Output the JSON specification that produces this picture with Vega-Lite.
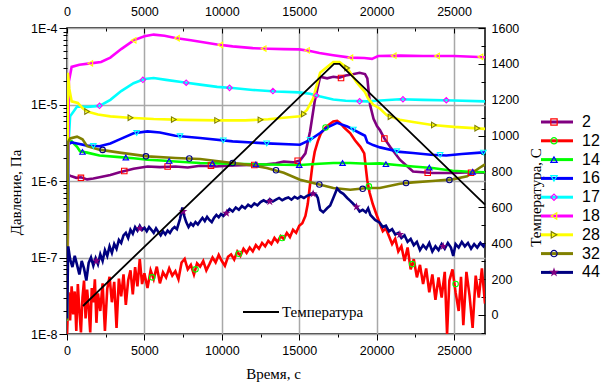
{
"$schema":"https://vega.github.io/schema/vega-lite/v6.json",
"autosize":"none","width":418,"height":306,
"padding":{"left":67,"top":28,"right":120,"bottom":49},
"background":"white",
"config":{"view":{"stroke":"#000","strokeWidth":1.5},
 "axis":{"labelFont":"Liberation Sans","labelFontSize":12.5,"labelColor":"#000","titleFont":"Liberation Serif","titleFontSize":15,"titleFontWeight":"normal","titleColor":"#000","domain":false,"tickColor":"#000","tickWidth":1,"gridColor":"#a8a8a8","gridWidth":1.5,"gridOpacity":1,"labelFlush":false,"labelOverlap":false}},
"datasets":{
"P":[
{"s":"2","t":0,"p":1.5e-8},{"s":"2","t":100,"p":1.2e-6},{"s":"2","t":300,"p":1.15e-6},{"s":"2","t":600,"p":1.1e-6},{"s":"2","t":900,"p":1.12e-6},{"s":"2","t":1300,"p":1.05e-6},{"s":"2","t":1700,"p":1.08e-6},{"s":"2","t":2100,"p":1.12e-6},{"s":"2","t":2800,"p":1.2e-6},{"s":"2","t":3400,"p":1.3e-6},{"s":"2","t":4300,"p":1.45e-6},{"s":"2","t":5200,"p":1.55e-6},{"s":"2","t":6000,"p":1.52e-6},{"s":"2","t":7000,"p":1.55e-6},{"s":"2","t":7800,"p":1.5e-6},{"s":"2","t":8600,"p":1.58e-6},{"s":"2","t":9600,"p":1.55e-6},{"s":"2","t":10700,"p":1.6e-6},{"s":"2","t":11800,"p":1.62e-6},{"s":"2","t":12900,"p":1.65e-6},{"s":"2","t":13500,"p":1.7e-6},{"s":"2","t":14000,"p":1.8e-6},{"s":"2","t":14600,"p":1.75e-6},{"s":"2","t":15050,"p":1.85e-6},{"s":"2","t":15400,"p":2.3e-6},{"s":"2","t":15700,"p":4.45e-6},{"s":"2","t":16000,"p":1.1e-5},{"s":"2","t":16350,"p":2.3e-5},{"s":"2","t":16800,"p":2.2e-5},{"s":"2","t":17200,"p":2.3e-5},{"s":"2","t":17600,"p":2.25e-5},{"s":"2","t":18000,"p":2.4e-5},{"s":"2","t":18300,"p":2.45e-5},{"s":"2","t":18900,"p":2.6e-5},{"s":"2","t":19250,"p":2.5e-5},{"s":"2","t":19400,"p":2.2e-5},{"s":"2","t":19570,"p":1.0e-5},{"s":"2","t":19800,"p":6.5e-6},{"s":"2","t":20030,"p":5.2e-6},{"s":"2","t":20220,"p":4.6e-6},{"s":"2","t":20500,"p":3.6e-6},{"s":"2","t":20870,"p":2.8e-6},{"s":"2","t":21500,"p":1.9e-6},{"s":"2","t":22350,"p":1.33e-6},{"s":"2","t":23600,"p":1.27e-6},{"s":"2","t":25000,"p":1.27e-6},{"s":"2","t":26000,"p":1.3e-6},{"s":"2","t":27000,"p":1.28e-6},
{"s":"12","t":0,"p":1.0e-8},{"s":"12","t":100,"p":3.5e-8},{"s":"12","t":200,"p":1.5e-8},{"s":"12","t":300,"p":4.2e-8},{"s":"12","t":400,"p":1.8e-8},{"s":"12","t":500,"p":3.6e-8},{"s":"12","t":600,"p":1.1e-8},{"s":"12","t":700,"p":4.5e-8},{"s":"12","t":800,"p":2.0e-8},{"s":"12","t":900,"p":1.05e-8},{"s":"12","t":1000,"p":3.0e-8},{"s":"12","t":1100,"p":5.0e-8},{"s":"12","t":1200,"p":1.6e-8},{"s":"12","t":1300,"p":3.8e-8},{"s":"12","t":1400,"p":2.2e-8},{"s":"12","t":1500,"p":1.05e-8},{"s":"12","t":1600,"p":4.0e-8},{"s":"12","t":1700,"p":2.6e-8},{"s":"12","t":1800,"p":5.2e-8},{"s":"12","t":1900,"p":1.4e-8},{"s":"12","t":2000,"p":3.4e-8},{"s":"12","t":2150,"p":2.0e-8},{"s":"12","t":2300,"p":4.6e-8},{"s":"12","t":2450,"p":1.1e-8},{"s":"12","t":2600,"p":3.9e-8},{"s":"12","t":2750,"p":5.6e-8},{"s":"12","t":2900,"p":2.6e-8},{"s":"12","t":3050,"p":4.8e-8},{"s":"12","t":3200,"p":1.2e-8},{"s":"12","t":3350,"p":5.3e-8},{"s":"12","t":3500,"p":3.1e-8},{"s":"12","t":3650,"p":6.0e-8},{"s":"12","t":3800,"p":2.4e-8},{"s":"12","t":3950,"p":5.0e-8},{"s":"12","t":4100,"p":6.8e-8},{"s":"12","t":4250,"p":3.3e-8},{"s":"12","t":4400,"p":7.5e-8},{"s":"12","t":4550,"p":4.2e-8},{"s":"12","t":4700,"p":9.5e-8},{"s":"12","t":4850,"p":4.5e-8},{"s":"12","t":5000,"p":6.2e-8},{"s":"12","t":5200,"p":4.0e-8},{"s":"12","t":5400,"p":6.8e-8},{"s":"12","t":5600,"p":5.2e-8},{"s":"12","t":5800,"p":7.6e-8},{"s":"12","t":6000,"p":4.6e-8},{"s":"12","t":6200,"p":6.4e-8},{"s":"12","t":6400,"p":5.5e-8},{"s":"12","t":6600,"p":7.2e-8},{"s":"12","t":6800,"p":5.8e-8},{"s":"12","t":7000,"p":6.6e-8},{"s":"12","t":7200,"p":5.2e-8},{"s":"12","t":7400,"p":8.6e-8},{"s":"12","t":7600,"p":9.6e-8},{"s":"12","t":7800,"p":7.0e-8},{"s":"12","t":8000,"p":8.0e-8},{"s":"12","t":8200,"p":6.0e-8},{"s":"12","t":8400,"p":8.4e-8},{"s":"12","t":8600,"p":7.6e-8},{"s":"12","t":8800,"p":9.0e-8},{"s":"12","t":9000,"p":6.8e-8},{"s":"12","t":9200,"p":8.2e-8},{"s":"12","t":9400,"p":1.0e-7},{"s":"12","t":9600,"p":8.6e-8},{"s":"12","t":9800,"p":1.08e-7},{"s":"12","t":10000,"p":9.0e-8},{"s":"12","t":10200,"p":7.8e-8},{"s":"12","t":10400,"p":1.02e-7},{"s":"12","t":10600,"p":1.1e-7},{"s":"12","t":10800,"p":9.4e-8},{"s":"12","t":11000,"p":1.2e-7},{"s":"12","t":11200,"p":1.05e-7},{"s":"12","t":11400,"p":1.3e-7},{"s":"12","t":11600,"p":1.15e-7},{"s":"12","t":11800,"p":1.35e-7},{"s":"12","t":12000,"p":1.2e-7},{"s":"12","t":12200,"p":1.45e-7},{"s":"12","t":12400,"p":1.3e-7},{"s":"12","t":12600,"p":1.55e-7},{"s":"12","t":12800,"p":1.4e-7},{"s":"12","t":13000,"p":1.65e-7},{"s":"12","t":13200,"p":1.5e-7},{"s":"12","t":13400,"p":1.8e-7},{"s":"12","t":13600,"p":1.6e-7},{"s":"12","t":13800,"p":1.9e-7},{"s":"12","t":14000,"p":1.75e-7},{"s":"12","t":14200,"p":2.1e-7},{"s":"12","t":14400,"p":1.85e-7},{"s":"12","t":14600,"p":2.3e-7},{"s":"12","t":14800,"p":2.1e-7},{"s":"12","t":15000,"p":2.6e-7},{"s":"12","t":15200,"p":2.8e-7},{"s":"12","t":15400,"p":3.5e-7},{"s":"12","t":15550,"p":5.0e-7},{"s":"12","t":15700,"p":9.0e-7},{"s":"12","t":15850,"p":1.6e-6},{"s":"12","t":16000,"p":2.4e-6},{"s":"12","t":16200,"p":3.3e-6},{"s":"12","t":16400,"p":4.2e-6},{"s":"12","t":16700,"p":5.0e-6},{"s":"12","t":17000,"p":5.6e-6},{"s":"12","t":17200,"p":6.0e-6},{"s":"12","t":17450,"p":6.1e-6},{"s":"12","t":17650,"p":5.7e-6},{"s":"12","t":17900,"p":5.0e-6},{"s":"12","t":18300,"p":4.2e-6},{"s":"12","t":18600,"p":3.4e-6},{"s":"12","t":18950,"p":2.8e-6},{"s":"12","t":19200,"p":2.3e-6},{"s":"12","t":19300,"p":1.5e-6},{"s":"12","t":19400,"p":1.0e-6},{"s":"12","t":19550,"p":7.0e-7},{"s":"12","t":19750,"p":5.0e-7},{"s":"12","t":20000,"p":3.6e-7},{"s":"12","t":20200,"p":2.8e-7},{"s":"12","t":20400,"p":2.2e-7},{"s":"12","t":20600,"p":2.4e-7},{"s":"12","t":20800,"p":1.9e-7},{"s":"12","t":21000,"p":1.5e-7},{"s":"12","t":21200,"p":1.75e-7},{"s":"12","t":21400,"p":1.2e-7},{"s":"12","t":21600,"p":1.4e-7},{"s":"12","t":21800,"p":9.0e-8},{"s":"12","t":22000,"p":1.35e-7},{"s":"12","t":22200,"p":7.0e-8},{"s":"12","t":22400,"p":9.5e-8},{"s":"12","t":22600,"p":5.5e-8},{"s":"12","t":22800,"p":8.0e-8},{"s":"12","t":23000,"p":4.5e-8},{"s":"12","t":23200,"p":7.2e-8},{"s":"12","t":23400,"p":3.5e-8},{"s":"12","t":23600,"p":6.0e-8},{"s":"12","t":23800,"p":2.8e-8},{"s":"12","t":24000,"p":5.5e-8},{"s":"12","t":24200,"p":3.0e-8},{"s":"12","t":24400,"p":6.5e-8},{"s":"12","t":24550,"p":1.0e-8},{"s":"12","t":24700,"p":5.0e-8},{"s":"12","t":24900,"p":7.0e-8},{"s":"12","t":25100,"p":3.5e-8},{"s":"12","t":25300,"p":2.0e-8},{"s":"12","t":25450,"p":5.6e-8},{"s":"12","t":25600,"p":1.3e-8},{"s":"12","t":25800,"p":6.5e-8},{"s":"12","t":26000,"p":3.2e-8},{"s":"12","t":26200,"p":1.2e-8},{"s":"12","t":26400,"p":5.8e-8},{"s":"12","t":26600,"p":3.0e-8},{"s":"12","t":26800,"p":7.2e-8},{"s":"12","t":27000,"p":2.5e-8},
{"s":"14","t":0,"p":1.5e-8},{"s":"14","t":80,"p":3.2e-6},{"s":"14","t":300,"p":3.3e-6},{"s":"14","t":650,"p":2.8e-6},{"s":"14","t":840,"p":2.45e-6},{"s":"14","t":1300,"p":2.35e-6},{"s":"14","t":2100,"p":2.15e-6},{"s":"14","t":3400,"p":2.05e-6},{"s":"14","t":4300,"p":1.98e-6},{"s":"14","t":5200,"p":1.9e-6},{"s":"14","t":6100,"p":1.85e-6},{"s":"14","t":7000,"p":1.8e-6},{"s":"14","t":8600,"p":1.72e-6},{"s":"14","t":9700,"p":1.7e-6},{"s":"14","t":10700,"p":1.68e-6},{"s":"14","t":12900,"p":1.64e-6},{"s":"14","t":15050,"p":1.62e-6},{"s":"14","t":16300,"p":1.68e-6},{"s":"14","t":17200,"p":1.72e-6},{"s":"14","t":18300,"p":1.72e-6},{"s":"14","t":19400,"p":1.68e-6},{"s":"14","t":20200,"p":1.7e-6},{"s":"14","t":21300,"p":1.62e-6},{"s":"14","t":22350,"p":1.55e-6},{"s":"14","t":23600,"p":1.48e-6},{"s":"14","t":24900,"p":1.36e-6},{"s":"14","t":26000,"p":1.32e-6},{"s":"14","t":27000,"p":1.3e-6},
{"s":"16","t":0,"p":1.5e-8},{"s":"16","t":80,"p":3.0e-6},{"s":"16","t":300,"p":3.2e-6},{"s":"16","t":650,"p":3.1e-6},{"s":"16","t":1300,"p":2.9e-6},{"s":"16","t":2100,"p":2.85e-6},{"s":"16","t":2800,"p":3.1e-6},{"s":"16","t":3400,"p":3.5e-6},{"s":"16","t":4300,"p":4.2e-6},{"s":"16","t":5200,"p":4.45e-6},{"s":"16","t":6000,"p":4.3e-6},{"s":"16","t":7000,"p":3.9e-6},{"s":"16","t":8600,"p":3.65e-6},{"s":"16","t":10700,"p":3.3e-6},{"s":"16","t":12900,"p":3.1e-6},{"s":"16","t":15050,"p":2.98e-6},{"s":"16","t":15700,"p":3.45e-6},{"s":"16","t":16350,"p":4.24e-6},{"s":"16","t":16800,"p":5.0e-6},{"s":"16","t":17440,"p":5.75e-6},{"s":"16","t":18100,"p":5.17e-6},{"s":"16","t":18900,"p":4.24e-6},{"s":"16","t":19250,"p":3.9e-6},{"s":"16","t":19400,"p":3.2e-6},{"s":"16","t":19770,"p":2.95e-6},{"s":"16","t":20220,"p":2.75e-6},{"s":"16","t":21500,"p":2.4e-6},{"s":"16","t":22350,"p":2.32e-6},{"s":"16","t":23500,"p":2.2e-6},{"s":"16","t":24500,"p":2.15e-6},{"s":"16","t":25500,"p":2.25e-6},{"s":"16","t":26700,"p":2.35e-6},{"s":"16","t":27000,"p":2.35e-6},
{"s":"17","t":0,"p":1.5e-8},{"s":"17","t":100,"p":3e-6},{"s":"17","t":200,"p":7e-6},{"s":"17","t":650,"p":9.4e-6},{"s":"17","t":1300,"p":9.3e-6},{"s":"17","t":2100,"p":9.6e-6},{"s":"17","t":2800,"p":1.15e-5},{"s":"17","t":3500,"p":1.5e-5},{"s":"17","t":4300,"p":1.9e-5},{"s":"17","t":5000,"p":2.15e-5},{"s":"17","t":5600,"p":2.22e-5},{"s":"17","t":6400,"p":2.1e-5},{"s":"17","t":7500,"p":1.95e-5},{"s":"17","t":8600,"p":1.82e-5},{"s":"17","t":9700,"p":1.7e-5},{"s":"17","t":10700,"p":1.64e-5},{"s":"17","t":12000,"p":1.55e-5},{"s":"17","t":13500,"p":1.48e-5},{"s":"17","t":15000,"p":1.44e-5},{"s":"17","t":15700,"p":1.38e-5},{"s":"17","t":16300,"p":1.28e-5},{"s":"17","t":17200,"p":1.16e-5},{"s":"17","t":18000,"p":1.12e-5},{"s":"17","t":19400,"p":1.1e-5},{"s":"17","t":20000,"p":1.12e-5},{"s":"17","t":21500,"p":1.17e-5},{"s":"17","t":23000,"p":1.15e-5},{"s":"17","t":25000,"p":1.13e-5},{"s":"17","t":27000,"p":1.1e-5},
{"s":"18","t":0,"p":2e-8},{"s":"18","t":120,"p":2.0e-5},{"s":"18","t":300,"p":3.1e-5},{"s":"18","t":800,"p":3.3e-5},{"s":"18","t":1500,"p":3.45e-5},{"s":"18","t":2200,"p":3.6e-5},{"s":"18","t":2800,"p":4.1e-5},{"s":"18","t":3500,"p":5.3e-5},{"s":"18","t":4300,"p":6.9e-5},{"s":"18","t":5000,"p":7.8e-5},{"s":"18","t":5600,"p":8.2e-5},{"s":"18","t":6300,"p":7.9e-5},{"s":"18","t":7000,"p":7.4e-5},{"s":"18","t":8000,"p":6.9e-5},{"s":"18","t":8600,"p":6.6e-5},{"s":"18","t":9700,"p":6.1e-5},{"s":"18","t":10700,"p":5.75e-5},{"s":"18","t":12000,"p":5.45e-5},{"s":"18","t":13000,"p":5.35e-5},{"s":"18","t":14000,"p":5.3e-5},{"s":"18","t":15000,"p":5.25e-5},{"s":"18","t":15700,"p":5.0e-5},{"s":"18","t":16300,"p":4.7e-5},{"s":"18","t":17200,"p":4.4e-5},{"s":"18","t":18300,"p":4.1e-5},{"s":"18","t":19200,"p":4.05e-5},{"s":"18","t":19700,"p":3.95e-5},{"s":"18","t":20100,"p":4.3e-5},{"s":"18","t":21500,"p":4.35e-5},{"s":"18","t":23000,"p":4.3e-5},{"s":"18","t":25000,"p":4.3e-5},{"s":"18","t":27000,"p":4.15e-5},
{"s":"28","t":0,"p":1.5e-8},{"s":"28","t":60,"p":2.6e-5},{"s":"28","t":150,"p":1.6e-5},{"s":"28","t":300,"p":1.1e-5},{"s":"28","t":700,"p":1.05e-5},{"s":"28","t":1000,"p":9e-6},{"s":"28","t":1300,"p":8.1e-6},{"s":"28","t":2000,"p":7.4e-6},{"s":"28","t":2800,"p":7.0e-6},{"s":"28","t":4000,"p":6.7e-6},{"s":"28","t":5600,"p":6.45e-6},{"s":"28","t":7500,"p":6.3e-6},{"s":"28","t":9900,"p":6.2e-6},{"s":"28","t":11500,"p":6.2e-6},{"s":"28","t":13000,"p":6.4e-6},{"s":"28","t":14000,"p":6.7e-6},{"s":"28","t":15050,"p":7.0e-6},{"s":"28","t":15500,"p":8.5e-6},{"s":"28","t":15900,"p":1.2e-5},{"s":"28","t":16350,"p":2.6e-5},{"s":"28","t":16800,"p":3.1e-5},{"s":"28","t":17200,"p":3.6e-5},{"s":"28","t":17600,"p":3.6e-5},{"s":"28","t":18100,"p":3.0e-5},{"s":"28","t":18700,"p":1.95e-5},{"s":"28","t":19250,"p":1.45e-5},{"s":"28","t":19450,"p":1.2e-5},{"s":"28","t":19770,"p":1.0e-5},{"s":"28","t":20220,"p":8.8e-6},{"s":"28","t":20670,"p":7.2e-6},{"s":"28","t":21500,"p":6.3e-6},{"s":"28","t":22350,"p":5.9e-6},{"s":"28","t":23600,"p":5.4e-6},{"s":"28","t":25000,"p":5.1e-6},{"s":"28","t":27000,"p":4.8e-6},
{"s":"32","t":0,"p":1.5e-8},{"s":"32","t":60,"p":3.2e-6},{"s":"32","t":200,"p":3.6e-6},{"s":"32","t":650,"p":3.8e-6},{"s":"32","t":1000,"p":3.5e-6},{"s":"32","t":1300,"p":2.85e-6},{"s":"32","t":2100,"p":2.57e-6},{"s":"32","t":3400,"p":2.35e-6},{"s":"32","t":5200,"p":2.1e-6},{"s":"32","t":7000,"p":2.0e-6},{"s":"32","t":8600,"p":1.94e-6},{"s":"32","t":10700,"p":1.72e-6},{"s":"32","t":12000,"p":1.6e-6},{"s":"32","t":12900,"p":1.48e-6},{"s":"32","t":14000,"p":1.28e-6},{"s":"32","t":15050,"p":1.04e-6},{"s":"32","t":16300,"p":9e-7},{"s":"32","t":17200,"p":8.1e-7},{"s":"32","t":18300,"p":7.7e-7},{"s":"32","t":19400,"p":8.1e-7},{"s":"32","t":20200,"p":8.1e-7},{"s":"32","t":21500,"p":9.2e-7},{"s":"32","t":22350,"p":9.6e-7},{"s":"32","t":23600,"p":1.0e-6},{"s":"32","t":24900,"p":1.05e-6},{"s":"32","t":25840,"p":1.15e-6},{"s":"32","t":26680,"p":1.5e-6},{"s":"32","t":27000,"p":1.65e-6},
{"s":"44","t":0,"p":1.6e-8},{"s":"44","t":80,"p":1.4e-7},{"s":"44","t":200,"p":9.5e-8},{"s":"44","t":350,"p":7.5e-8},{"s":"44","t":500,"p":1.05e-7},{"s":"44","t":650,"p":8.0e-8},{"s":"44","t":800,"p":6.0e-8},{"s":"44","t":950,"p":9.0e-8},{"s":"44","t":1100,"p":7.2e-8},{"s":"44","t":1250,"p":5.0e-8},{"s":"44","t":1400,"p":8.5e-8},{"s":"44","t":1550,"p":1.0e-7},{"s":"44","t":1700,"p":7.8e-8},{"s":"44","t":1850,"p":9.8e-8},{"s":"44","t":2000,"p":8.2e-8},{"s":"44","t":2150,"p":1.1e-7},{"s":"44","t":2300,"p":9.0e-8},{"s":"44","t":2450,"p":1.25e-7},{"s":"44","t":2600,"p":1.05e-7},{"s":"44","t":2750,"p":1.4e-7},{"s":"44","t":2900,"p":1.15e-7},{"s":"44","t":3050,"p":1.5e-7},{"s":"44","t":3200,"p":1.3e-7},{"s":"44","t":3350,"p":1.7e-7},{"s":"44","t":3500,"p":1.55e-7},{"s":"44","t":3650,"p":1.95e-7},{"s":"44","t":3800,"p":2.1e-7},{"s":"44","t":3950,"p":1.8e-7},{"s":"44","t":4100,"p":2.3e-7},{"s":"44","t":4250,"p":2.05e-7},{"s":"44","t":4400,"p":2.5e-7},{"s":"44","t":4550,"p":2.25e-7},{"s":"44","t":4700,"p":2.6e-7},{"s":"44","t":4850,"p":2.3e-7},{"s":"44","t":5000,"p":2.45e-7},{"s":"44","t":5150,"p":2.2e-7},{"s":"44","t":5300,"p":2.5e-7},{"s":"44","t":5450,"p":2.3e-7},{"s":"44","t":5600,"p":2.1e-7},{"s":"44","t":5750,"p":2.4e-7},{"s":"44","t":5900,"p":2.15e-7},{"s":"44","t":6050,"p":1.95e-7},{"s":"44","t":6200,"p":2.2e-7},{"s":"44","t":6350,"p":2.0e-7},{"s":"44","t":6500,"p":2.25e-7},{"s":"44","t":6650,"p":2.1e-7},{"s":"44","t":6800,"p":2.35e-7},{"s":"44","t":6950,"p":2.5e-7},{"s":"44","t":7100,"p":2.35e-7},{"s":"44","t":7300,"p":3.2e-7},{"s":"44","t":7450,"p":4.5e-7},{"s":"44","t":7550,"p":3.6e-7},{"s":"44","t":7700,"p":2.9e-7},{"s":"44","t":7850,"p":2.5e-7},{"s":"44","t":8000,"p":2.8e-7},{"s":"44","t":8150,"p":2.6e-7},{"s":"44","t":8300,"p":2.9e-7},{"s":"44","t":8450,"p":2.7e-7},{"s":"44","t":8600,"p":3.0e-7},{"s":"44","t":8750,"p":3.3e-7},{"s":"44","t":8900,"p":3.0e-7},{"s":"44","t":9050,"p":3.4e-7},{"s":"44","t":9200,"p":3.1e-7},{"s":"44","t":9350,"p":2.9e-7},{"s":"44","t":9500,"p":3.3e-7},{"s":"44","t":9650,"p":3.6e-7},{"s":"44","t":9800,"p":3.35e-7},{"s":"44","t":9950,"p":3.7e-7},{"s":"44","t":10100,"p":3.5e-7},{"s":"44","t":10300,"p":3.9e-7},{"s":"44","t":10500,"p":4.3e-7},{"s":"44","t":10700,"p":4.0e-7},{"s":"44","t":10900,"p":4.5e-7},{"s":"44","t":11100,"p":4.2e-7},{"s":"44","t":11300,"p":4.7e-7},{"s":"44","t":11500,"p":4.4e-7},{"s":"44","t":11700,"p":4.9e-7},{"s":"44","t":11900,"p":4.6e-7},{"s":"44","t":12100,"p":5.1e-7},{"s":"44","t":12300,"p":4.8e-7},{"s":"44","t":12500,"p":5.3e-7},{"s":"44","t":12700,"p":5.6e-7},{"s":"44","t":12900,"p":5.3e-7},{"s":"44","t":13100,"p":5.8e-7},{"s":"44","t":13300,"p":5.4e-7},{"s":"44","t":13500,"p":5.7e-7},{"s":"44","t":13700,"p":6.0e-7},{"s":"44","t":13900,"p":5.6e-7},{"s":"44","t":14100,"p":5.9e-7},{"s":"44","t":14300,"p":6.1e-7},{"s":"44","t":14500,"p":5.7e-7},{"s":"44","t":14700,"p":6.2e-7},{"s":"44","t":14900,"p":5.9e-7},{"s":"44","t":15100,"p":6.3e-7},{"s":"44","t":15300,"p":6.0e-7},{"s":"44","t":15500,"p":6.4e-7},{"s":"44","t":15700,"p":6.6e-7},{"s":"44","t":15900,"p":7.0e-7},{"s":"44","t":16100,"p":6.6e-7},{"s":"44","t":16200,"p":6.0e-7},{"s":"44","t":16350,"p":4.2e-7},{"s":"44","t":16550,"p":3.9e-7},{"s":"44","t":16800,"p":4.4e-7},{"s":"44","t":17000,"p":4.8e-7},{"s":"44","t":17200,"p":6.0e-7},{"s":"44","t":17450,"p":8.0e-7},{"s":"44","t":17650,"p":7.2e-7},{"s":"44","t":17850,"p":6.8e-7},{"s":"44","t":18100,"p":6.0e-7},{"s":"44","t":18300,"p":5.5e-7},{"s":"44","t":18500,"p":5.0e-7},{"s":"44","t":18700,"p":4.6e-7},{"s":"44","t":18900,"p":4.0e-7},{"s":"44","t":19100,"p":4.2e-7},{"s":"44","t":19300,"p":3.9e-7},{"s":"44","t":19450,"p":4.4e-7},{"s":"44","t":19600,"p":3.6e-7},{"s":"44","t":19900,"p":3.1e-7},{"s":"44","t":20200,"p":2.85e-7},{"s":"44","t":20400,"p":2.5e-7},{"s":"44","t":20600,"p":2.6e-7},{"s":"44","t":20800,"p":2.2e-7},{"s":"44","t":21000,"p":2.35e-7},{"s":"44","t":21200,"p":2.0e-7},{"s":"44","t":21400,"p":2.1e-7},{"s":"44","t":21600,"p":1.8e-7},{"s":"44","t":21800,"p":1.95e-7},{"s":"44","t":22000,"p":1.6e-7},{"s":"44","t":22200,"p":1.75e-7},{"s":"44","t":22400,"p":1.45e-7},{"s":"44","t":22600,"p":1.6e-7},{"s":"44","t":22800,"p":1.25e-7},{"s":"44","t":23000,"p":1.45e-7},{"s":"44","t":23200,"p":1.3e-7},{"s":"44","t":23400,"p":1.55e-7},{"s":"44","t":23600,"p":1.2e-7},{"s":"44","t":23800,"p":1.4e-7},{"s":"44","t":24000,"p":1.25e-7},{"s":"44","t":24200,"p":1.5e-7},{"s":"44","t":24400,"p":1.3e-7},{"s":"44","t":24600,"p":1.55e-7},{"s":"44","t":24800,"p":1.35e-7},{"s":"44","t":24950,"p":1.05e-7},{"s":"44","t":25100,"p":1.5e-7},{"s":"44","t":25300,"p":1.35e-7},{"s":"44","t":25500,"p":1.6e-7},{"s":"44","t":25700,"p":1.4e-7},{"s":"44","t":25900,"p":1.55e-7},{"s":"44","t":26100,"p":1.3e-7},{"s":"44","t":26300,"p":1.5e-7},{"s":"44","t":26500,"p":1.35e-7},{"s":"44","t":26700,"p":1.55e-7},{"s":"44","t":26900,"p":1.4e-7},{"s":"44","t":27000,"p":1.5e-7}
],
"M":[
{"s":"2","t":900,"p":1.1e-6},{"s":"2","t":3700,"p":1.35e-6},{"s":"2","t":6500,"p":1.55e-6},{"s":"2","t":9300,"p":1.59e-6},{"s":"2","t":12100,"p":1.62e-6},{"s":"2","t":14900,"p":1.84e-6},{"s":"2","t":17700,"p":2.22e-5},{"s":"2","t":20500,"p":3.6e-6},{"s":"2","t":23300,"p":1.28e-6},{"s":"2","t":26100,"p":1.28e-6},
{"s":"12","t":5500,"p":5.5e-8},{"s":"12","t":8300,"p":7.0e-8},{"s":"12","t":11100,"p":1.12e-7},{"s":"12","t":13900,"p":1.8e-7},{"s":"12","t":16700,"p":5.0e-6},{"s":"12","t":19500,"p":8.5e-7},{"s":"12","t":22300,"p":8.2e-8},{"s":"12","t":25100,"p":4.5e-8},
{"s":"14","t":1000,"p":2.4e-6},{"s":"14","t":3800,"p":2.03e-6},{"s":"14","t":6600,"p":1.83e-6},{"s":"14","t":9400,"p":1.7e-6},{"s":"14","t":12200,"p":1.65e-6},{"s":"14","t":15000,"p":1.62e-6},{"s":"14","t":17800,"p":1.72e-6},{"s":"14","t":20600,"p":1.66e-6},{"s":"14","t":23400,"p":1.5e-6},{"s":"14","t":26200,"p":1.32e-6},
{"s":"16","t":1700,"p":2.87e-6},{"s":"16","t":4500,"p":4.25e-6},{"s":"16","t":7300,"p":3.85e-6},{"s":"16","t":10100,"p":3.4e-6},{"s":"16","t":12900,"p":3.1e-6},{"s":"16","t":15700,"p":3.45e-6},{"s":"16","t":18500,"p":4.7e-6},{"s":"16","t":21300,"p":2.45e-6},{"s":"16","t":24100,"p":2.2e-6},{"s":"16","t":26900,"p":2.35e-6},
{"s":"17","t":2100,"p":9.6e-6},{"s":"17","t":4900,"p":2.1e-5},{"s":"17","t":7700,"p":1.93e-5},{"s":"17","t":10500,"p":1.65e-5},{"s":"17","t":13300,"p":1.5e-5},{"s":"17","t":16100,"p":1.31e-5},{"s":"17","t":18900,"p":1.1e-5},{"s":"17","t":21700,"p":1.17e-5},{"s":"17","t":24500,"p":1.14e-5},
{"s":"18","t":1500,"p":3.45e-5},{"s":"18","t":4300,"p":6.9e-5},{"s":"18","t":7100,"p":7.35e-5},{"s":"18","t":9900,"p":6.0e-5},{"s":"18","t":12700,"p":5.38e-5},{"s":"18","t":15500,"p":5.1e-5},{"s":"18","t":18300,"p":4.1e-5},{"s":"18","t":21100,"p":4.35e-5},{"s":"18","t":23900,"p":4.3e-5},{"s":"18","t":26700,"p":4.2e-5},
{"s":"28","t":1300,"p":8.1e-6},{"s":"28","t":4100,"p":6.7e-6},{"s":"28","t":6900,"p":6.35e-6},{"s":"28","t":9700,"p":6.2e-6},{"s":"28","t":12500,"p":6.3e-6},{"s":"28","t":15300,"p":7.5e-6},{"s":"28","t":18100,"p":3.0e-5},{"s":"28","t":20900,"p":6.9e-6},{"s":"28","t":23700,"p":5.4e-6},{"s":"28","t":26500,"p":4.9e-6},
{"s":"32","t":2300,"p":2.55e-6},{"s":"32","t":5100,"p":2.1e-6},{"s":"32","t":7900,"p":1.97e-6},{"s":"32","t":10700,"p":1.72e-6},{"s":"32","t":13500,"p":1.38e-6},{"s":"32","t":16300,"p":9e-7},{"s":"32","t":19100,"p":7.9e-7},{"s":"32","t":21900,"p":9.4e-7},{"s":"32","t":24700,"p":1.03e-6},
{"s":"44","t":1900,"p":9e-8},{"s":"44","t":4700,"p":2.4e-7},{"s":"44","t":7500,"p":4.0e-7},{"s":"44","t":10300,"p":3.8e-7},{"s":"44","t":13100,"p":5.4e-7},{"s":"44","t":15900,"p":6.8e-7},{"s":"44","t":18700,"p":4.6e-7},{"s":"44","t":21500,"p":2.0e-7},{"s":"44","t":24300,"p":1.4e-7}
],
"T":[{"t":1030,"T":50},{"t":17250,"T":1400},{"t":17600,"T":1400},{"t":27000,"T":615}]
},
"resolve":{"scale":{"y":"independent","stroke":"independent"},"axis":{"x":"independent","y":"independent"},"legend":{"color":"independent","shape":"independent","stroke":"independent","fill":"independent"}},
"layer":[
{"data":{"name":"P"},
 "mark":{"type":"line","strokeWidth":2.6,"clip":true},
 "encoding":{
  "x":{"field":"t","type":"quantitative","scale":{"domain":[0,27000],"nice":false,"zero":false},
   "axis":{"orient":"bottom","values":[0,5000,10000,15000,20000,25000],"format":"d","grid":true,"tickSize":6,"labelPadding":4,"title":"Время, с","titleX":206,"titleY":39,"titleBaseline":"middle","titleAlign":"center"}},
  "y":{"field":"p","type":"quantitative","scale":{"type":"log","domain":[1e-8,1e-4],"nice":false},
   "axis":{"orient":"left","values":[1e-8,1e-7,1e-6,1e-5,1e-4],"labelExpr":"'1E' + round(log(datum.value)/LN10)","grid":true,"tickSize":8,"labelPadding":2,"title":"Давление, Па","titleX":-52,"titleY":164,"titleAngle":-90,"titleAlign":"center","titleBaseline":"middle"}},
  "color":{"field":"s","type":"nominal","scale":{"domain":["2","12","14","16","17","18","28","32","44"],"range":["#800080","#ff0000","#00ff00","#0000ff","#00ffff","#ff00ff","#ffff00","#808000","#000080"]},
   "legend":{"orient":"none","legendX":482,"legendY":86,"direction":"vertical","title":null,"symbolType":"M-3.2,0H3.2","symbolSize":100,"symbolStrokeWidth":3,"labelFont":"Liberation Sans","labelFontSize":16,"labelColor":"#000","labelOffset":17,"rowPadding":2.8,"padding":0}}
 }},
{"data":{"name":"M"},
 "mark":{"type":"point","filled":true,"size":30,"strokeWidth":1.1,"opacity":1},
 "encoding":{
  "x":{"field":"t","type":"quantitative","axis":null},
  "y":{"field":"p","type":"quantitative","scale":{"type":"log","domain":[1e-8,1e-4],"nice":false},"axis":null},
  "shape":{"field":"s","type":"nominal","scale":{"domain":["2","12","14","16","17","18","28","32","44"],"range":["square","circle","triangle-up","triangle-down","diamond","triangle-left","triangle-right","circle","M0,-1L0.22,-0.31L0.95,-0.31L0.36,0.12L0.59,0.81L0,0.38L-0.59,0.81L-0.36,0.12L-0.95,-0.31L-0.22,-0.31Z"]},
   "legend":{"orient":"none","legendX":479,"legendY":86,"direction":"vertical","title":null,"symbolSize":40,"symbolStrokeWidth":1.2,"labelFontSize":16,"labelExpr":"' '","labelOpacity":0,"labelOffset":5,"rowPadding":2.8,"padding":0}},
  "stroke":{"field":"s","type":"nominal","scale":{"domain":["2","12","14","16","17","18","28","32","44"],"range":["#ff0000","#00ff00","#0000ff","#00ffff","#ff00ff","#ffff00","#808000","#000080","#800080"]},
   "legend":{"orient":"none","legendX":479,"legendY":86,"direction":"vertical","title":null,"symbolSize":40,"symbolStrokeWidth":1.2,"labelFontSize":16,"labelExpr":"' '","labelOpacity":0,"labelOffset":5,"rowPadding":2.8,"padding":0}},
  "fill":{"field":"s","type":"nominal","scale":{"domain":["2","12","14","16","17","18","28","32","44"],"range":["transparent","transparent","transparent","transparent","transparent","transparent","transparent","transparent","#800080"]},
   "legend":{"orient":"none","legendX":479,"legendY":86,"direction":"vertical","title":null,"symbolSize":40,"symbolStrokeWidth":1.2,"labelFontSize":16,"labelExpr":"' '","labelOpacity":0,"labelOffset":5,"rowPadding":2.8,"padding":0}}
 }},
{"data":{"name":"T"},
 "mark":{"type":"line","strokeWidth":1.8},
 "encoding":{
  "x":{"field":"t","type":"quantitative","axis":{"orient":"top","values":[0,5000,10000,15000,20000,25000],"format":"d","grid":false,"tickSize":-5,"labelPadding":15,"title":null}},
  "y":{"field":"T","type":"quantitative","scale":{"domain":[-106,1600],"nice":false,"zero":false},
   "axis":{"orient":"right","values":[0,200,400,600,800,1000,1200,1400,1600],"format":"d","grid":false,"tickSize":-7,"labelPadding":13,"title":"Температура, С","titleX":50,"titleY":169,"titleAngle":-90,"titleAlign":"center","titleBaseline":"middle"}},
  "stroke":{"datum":"Температура","type":"nominal","scale":{"range":["#000000"]},
   "legend":{"orient":"none","legendX":175,"legendY":265,"title":null,"symbolType":"stroke","symbolSize":1296,"symbolStrokeWidth":2,"labelFont":"Liberation Serif","labelFontSize":15,"labelColor":"#000","labelOffset":2,"padding":0}}
 }},
{"data":{"name":"T"},
 "mark":{"type":"line","opacity":0},
 "encoding":{
  "x":{"field":"t","type":"quantitative","axis":{"orient":"bottom","values":[2500,7500,12500,17500,22500],"labels":false,"grid":false,"tickSize":3,"title":null}},
  "y":{"field":"T","type":"quantitative","scale":{"domain":[-106,1600],"nice":false,"zero":false},
   "axis":{"orient":"right","values":[-100,100,300,500,700,900,1100,1300,1500],"labels":false,"grid":false,"tickSize":-4,"title":null}}
 }},
{"data":{"name":"M"},
 "mark":{"type":"point","opacity":0},
 "encoding":{
  "x":{"field":"t","type":"quantitative","axis":{"orient":"top","values":[2500,7500,12500,17500,22500],"labels":false,"grid":false,"tickSize":-3,"title":null}},
  "y":{"field":"p","type":"quantitative","scale":{"type":"log","domain":[1e-8,1e-4],"nice":false},
   "axis":{"orient":"left","values":[2e-8,3e-8,4e-8,5e-8,6e-8,7e-8,8e-8,9e-8,2e-7,3e-7,4e-7,5e-7,6e-7,7e-7,8e-7,9e-7,2e-6,3e-6,4e-6,5e-6,6e-6,7e-6,8e-6,9e-6,2e-5,3e-5,4e-5,5e-5,6e-5,7e-5,8e-5,9e-5],"labels":false,"grid":false,"tickSize":4,"title":null}}
 }}
]
}
